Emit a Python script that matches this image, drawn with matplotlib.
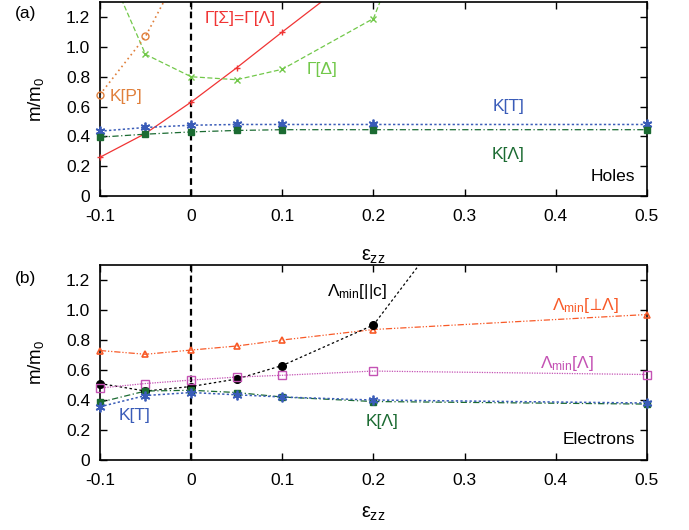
import matplotlib
matplotlib.use("Agg")
import matplotlib.pyplot as plt

plt.rcParams['font.family'] = ['Liberation Sans', 'DejaVu Sans']
plt.rcParams['mathtext.fontset'] = 'custom'
plt.rcParams['mathtext.rm'] = 'Liberation Sans'
plt.rcParams['mathtext.it'] = 'Liberation Sans'

# ---- data: holes (a) ----
x_gs = [-0.1, -0.05, 0.0, 0.05, 0.1, 0.2]
y_gs = [0.26, 0.42, 0.63, 0.86, 1.10, 1.57]
x_gd = [-0.1, -0.05, 0.0, 0.05, 0.1, 0.2, 0.3]
y_gd = [1.65, 0.95, 0.80, 0.78, 0.85, 1.19, 2.75]
x_kp = [-0.1, -0.05, 0.0]
y_kp = [0.68, 1.07, 1.65]
x_h = [-0.1, -0.05, 0.0, 0.05, 0.1, 0.2, 0.5]
y_kt_h = [0.435, 0.46, 0.475, 0.48, 0.48, 0.48, 0.48]
y_kl_h = [0.395, 0.415, 0.43, 0.44, 0.445, 0.445, 0.445]

# ---- data: electrons (b) ----
x_e = [-0.1, -0.05, 0.0, 0.05, 0.1, 0.2, 0.5]
y_lperp = [0.73, 0.705, 0.733, 0.76, 0.80, 0.87, 0.97]
x_lc = [-0.1, -0.05, 0.0, 0.05, 0.1, 0.2, 0.3]
y_lc = [0.51, 0.46, 0.49, 0.54, 0.63, 0.90, 1.70]
y_ll = [0.48, 0.51, 0.533, 0.553, 0.565, 0.593, 0.57]
y_kl_e = [0.385, 0.46, 0.465, 0.45, 0.42, 0.39, 0.373]
y_kt_e = [0.355, 0.43, 0.45, 0.435, 0.42, 0.40, 0.38]

xticks = [-0.1, 0, 0.1, 0.2, 0.3, 0.4, 0.5]
xticklabels = ['-0.1', '0', '0.1', '0.2', '0.3', '0.4', '0.5']
yticks = [0, 0.2, 0.4, 0.6, 0.8, 1.0, 1.2]
yticklabels = ['0', '0.2', '0.4', '0.6', '0.8', '1.0', '1.2']
YMAX = 1.3

c_red = '#f03434'
c_lgreen = '#72c84a'
c_orange = '#e0803c'
c_blue = '#3a5cb8'
c_dgreen = '#1b6b32'
c_ored = '#f85a28'
c_mag = '#c452b4'

ASTER = (6, 2, 0)

fig = plt.figure(figsize=(6.89, 5.30), dpi=100)
axa = fig.add_axes([0.145, 0.630, 0.794, 0.366])
axb = fig.add_axes([0.145, 0.132, 0.794, 0.368])

FS = 12.5
lw = 0.9


def style(ax, xpad):
    ax.set_xlim(-0.1, 0.5)
    ax.set_ylim(0, YMAX)
    ax.set_xticks(xticks)
    ax.set_xticklabels(xticklabels, fontsize=FS)
    ax.set_yticks(yticks)
    ax.set_yticklabels(yticklabels, fontsize=FS)
    ax.tick_params(axis='x', direction='in', top=True, length=5, width=1, pad=9)
    ax.tick_params(axis='y', direction='in', right=True, length=5, width=1, pad=7)
    for s in ax.spines.values():
        s.set_linewidth(1.2)
    ax.set_ylabel('m/m$_0$', fontsize=FS + 1, labelpad=14)
    ax.set_xlabel(r'$\epsilon_{zz}$', fontsize=FS + 2, labelpad=xpad)
    ax.axvline(0, color='black', ls=(0, (3, 2)), lw=1.6, zorder=1)


def series(ax, x, y, color, ls, lwid, marker, ms, **mk):
    ax.plot(x, y, color=color, ls=ls, lw=lwid, zorder=2)
    xs = [a for a, b in zip(x, y) if b <= YMAX]
    ys = [b for b in y if b <= YMAX]
    ax.plot(xs, ys, ls='none', color=color, marker=marker, ms=ms, clip_on=False, zorder=3, **mk)


# panel a
style(axa, 17)
series(axa, x_gs, y_gs, c_red, '-', lw, '+', 5, mew=1)
series(axa, x_gd, y_gd, c_lgreen, (0, (4, 2)), lw, 'x', 5, mew=1)
series(axa, x_kp, y_kp, c_orange, (0, (1, 2)), lw + 0.3, 'o', 5, mfc='none', mew=1)
series(axa, x_h, y_kt_h, c_blue, (0, (1.5, 1.5)), lw + 0.2, ASTER, 7, mew=1.3)
series(axa, x_h, y_kl_h, c_dgreen, (0, (5, 2, 1, 2)), lw, 's', 5)
axa.text(0.0154, 1.14, 'Γ[Σ]=Γ[Λ]', color=c_red, fontsize=FS, ha='left', va='bottom')
axa.text(0.127, 0.80, 'Γ[Δ]', color=c_lgreen, fontsize=FS, ha='left', va='bottom')
axa.text(-0.089, 0.62, 'K[P]', color=c_orange, fontsize=FS, ha='left', va='bottom')
axa.text(0.348, 0.55, 'K[T]', color=c_blue, fontsize=FS, ha='center', va='bottom')
axa.text(0.348, 0.33, 'K[Λ]', color=c_dgreen, fontsize=FS, ha='center', va='top')
axa.text(0.487, 0.08, 'Holes', color='black', fontsize=FS, ha='right', va='bottom')
fig.text(0.022, 0.975, '(a)', fontsize=FS, ha='left', va='center')

# panel b
style(axb, 12)
series(axb, x_e, y_lperp, c_ored, (0, (5, 1.5, 1, 1.5, 1, 1.5)), lw, '^', 5, mfc='none', mew=1.2)
series(axb, x_lc, y_lc, 'black', (0, (2, 2)), lw, 'o', 5.5)
series(axb, x_e, y_ll, c_mag, (0, (1, 1)), lw, 's', 6, mfc='none', mew=1)
series(axb, x_e, y_kl_e, c_dgreen, (0, (5, 2, 1, 2)), lw, 's', 5)
series(axb, x_e, y_kt_e, c_blue, (0, (1.5, 1.5)), lw + 0.2, ASTER, 7, mew=1.3)
axb.text(0.182, 1.06, r'$\Lambda_{\rm min}$[||c]', color='black', fontsize=FS, ha='center', va='bottom')
axb.text(0.432, 0.97, r'$\Lambda_{\rm min}[\!\perp\!\Lambda]$', color=c_ored, fontsize=FS, ha='center', va='bottom')
axb.text(0.412, 0.58, r'$\Lambda_{\rm min}[\Lambda]$', color=c_mag, fontsize=FS, ha='center', va='bottom')
axb.text(0.21, 0.31, 'K[Λ]', color=c_dgreen, fontsize=FS, ha='center', va='top')
axb.text(-0.08, 0.345, 'K[T]', color=c_blue, fontsize=FS, ha='left', va='top')
axb.text(0.487, 0.09, 'Electrons', color='black', fontsize=FS, ha='right', va='bottom')
fig.text(0.022, 0.475, '(b)', fontsize=FS, ha='left', va='center')

fig.savefig('out.png', dpi=100)
